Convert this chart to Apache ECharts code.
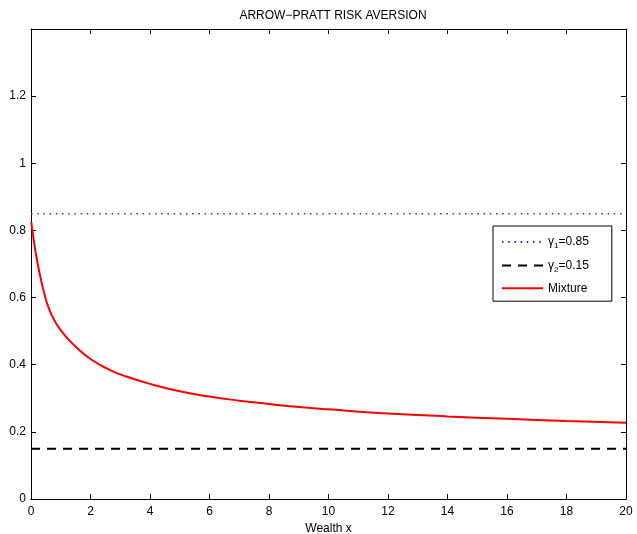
<!DOCTYPE html>
<html>
<head>
<meta charset="utf-8">
<script src="https://cdn.jsdelivr.net/npm/echarts@6/dist/echarts.min.js"></script>
<style>
html,body{margin:0;padding:0;background:#fff;}
#c{width:637px;height:534px;}
</style>
</head>
<body>
<div id="c"></div>
<script>
// ---- data ----
var titleText = 'ARROW\u2212PRATT RISK AVERSION';
var xLabelText = 'Wealth x';
var xRange = [0, 20];
var gamma1 = 0.85;
var gamma2 = 0.15;
var mixX = [0.01, 0.10, 0.19, 0.30, 0.43, 0.59, 0.80, 1.0, 1.2, 1.5, 2.0, 2.66, 3.2, 4.0, 5.0, 6.0, 7.0, 8.0, 9.0, 10, 12, 14, 16, 18, 20];
var mixY = [0.825, 0.767, 0.717, 0.668, 0.618, 0.57, 0.53, 0.503, 0.481, 0.454, 0.417, 0.384, 0.365, 0.343, 0.321, 0.305, 0.293, 0.283, 0.274, 0.267, 0.255, 0.246, 0.239, 0.232, 0.227];
var xTicks = [0, 2, 4, 6, 8, 10, 12, 14, 16, 18, 20];
var yTicks = [0, 0.2, 0.4, 0.6, 0.8, 1, 1.2];
var legendNames = ['gamma1', 'gamma2', 'Mixture'];

var FONT = 'Liberation Sans, Arial, Helvetica, sans-serif';
var chart = echarts.init(document.getElementById('c'), null, {renderer: 'canvas'});

function pairs(xs, ys) { return xs.map(function (x, i) { return [x, ys[i]]; }); }

var axisBase = {
  type: 'value',
  axisLine: {show: true, onZero: false, lineStyle: {color: '#000', width: 1}},
  axisTick: {show: true, inside: true, length: 5, lineStyle: {color: '#000', width: 1}},
  splitLine: {show: false}
};

var option = {
  backgroundColor: '#fff',
  animation: false,
  title: {
    text: titleText, left: 328, top: 5, textAlign: 'center',
    textStyle: {fontFamily: FONT, fontSize: 12, fontWeight: 'normal', color: '#000'}
  },
  grid: {left: 31, right: 11, top: 29, bottom: 35, containLabel: false, outerBoundsMode: 'none'},
  xAxis: [
    Object.assign({}, axisBase, {
      min: xRange[0], max: xRange[1], interval: 2, position: 'bottom',
      name: xLabelText, nameLocation: 'middle', nameGap: 15,
      nameTextStyle: {fontFamily: FONT, fontSize: 12, color: '#000'},
      axisLabel: {show: true, margin: 7, fontFamily: FONT, fontSize: 12, color: '#000',
        formatter: function (v) { return xTicks.indexOf(v) >= 0 ? String(v) : ''; }}
    }),
    Object.assign({}, axisBase, {
      min: xRange[0], max: xRange[1], interval: 2, position: 'top',
      axisLabel: {show: false}
    })
  ],
  yAxis: [
    Object.assign({}, axisBase, {
      min: 0, max: 1.4, interval: 0.2, position: 'left',
      axisLabel: {show: true, margin: 5, fontFamily: FONT, fontSize: 12, color: '#000',
        formatter: function (v) {
          var r = Math.round(v * 10) / 10;
          for (var i = 0; i < yTicks.length; i++) { if (Math.abs(yTicks[i] - r) < 1e-9) return String(yTicks[i]); }
          return '';
        }}
    }),
    Object.assign({}, axisBase, {
      min: 0, max: 1.4, interval: 0.2, position: 'right',
      axisLabel: {show: false}
    })
  ],
  legend: {
    orient: 'vertical', left: 493, top: 226,
    padding: [8, 23, 6, 8], itemGap: 7.6, itemWidth: 41, itemHeight: 14,
    borderColor: '#000', borderWidth: 1, borderRadius: 0, backgroundColor: '#fff',
    data: legendNames,
    selectedMode: false,
    itemStyle: {opacity: 0},
    textStyle: {
      fontFamily: FONT, fontSize: 12, color: '#000', lineHeight: 14,
      rich: {
        t: {fontFamily: FONT, fontSize: 12, color: '#000', lineHeight: 14},
        s: {fontFamily: FONT, fontSize: 8, color: '#000', lineHeight: 14, padding: [8, 0, 0, 0]}
      }
    },
    formatter: function (name) {
      if (name === 'gamma1') return '{t|\u03b3}{s|1}{t|=' + gamma1.toFixed(2) + '}';
      if (name === 'gamma2') return '{t|\u03b3}{s|2}{t|=' + gamma2.toFixed(2) + '}';
      return '{t|' + name + '}';
    }
  },
  series: [
    {
      name: 'gamma1', type: 'line', showSymbol: false, symbol: 'none',
      data: [[xRange[0], gamma1], [xRange[1], gamma1]],
      lineStyle: {color: '#2828ff', width: 1.5, type: [1.5, 4.7]},
      itemStyle: {color: '#2828ff'}
    },
    {
      name: 'gamma2', type: 'line', showSymbol: false, symbol: 'none',
      data: [[xRange[0], gamma2], [xRange[1], gamma2]],
      lineStyle: {color: '#000', width: 2, type: [9, 7]},
      itemStyle: {color: '#000'}
    },
    {
      name: 'Mixture', type: 'line', showSymbol: false, symbol: 'none',
      smooth: 0.5,
      data: pairs(mixX, mixY),
      lineStyle: {color: '#ff0000', width: 2},
      itemStyle: {color: '#ff0000'}
    }
  ]
};
chart.setOption(option);
</script>
</body>
</html>
